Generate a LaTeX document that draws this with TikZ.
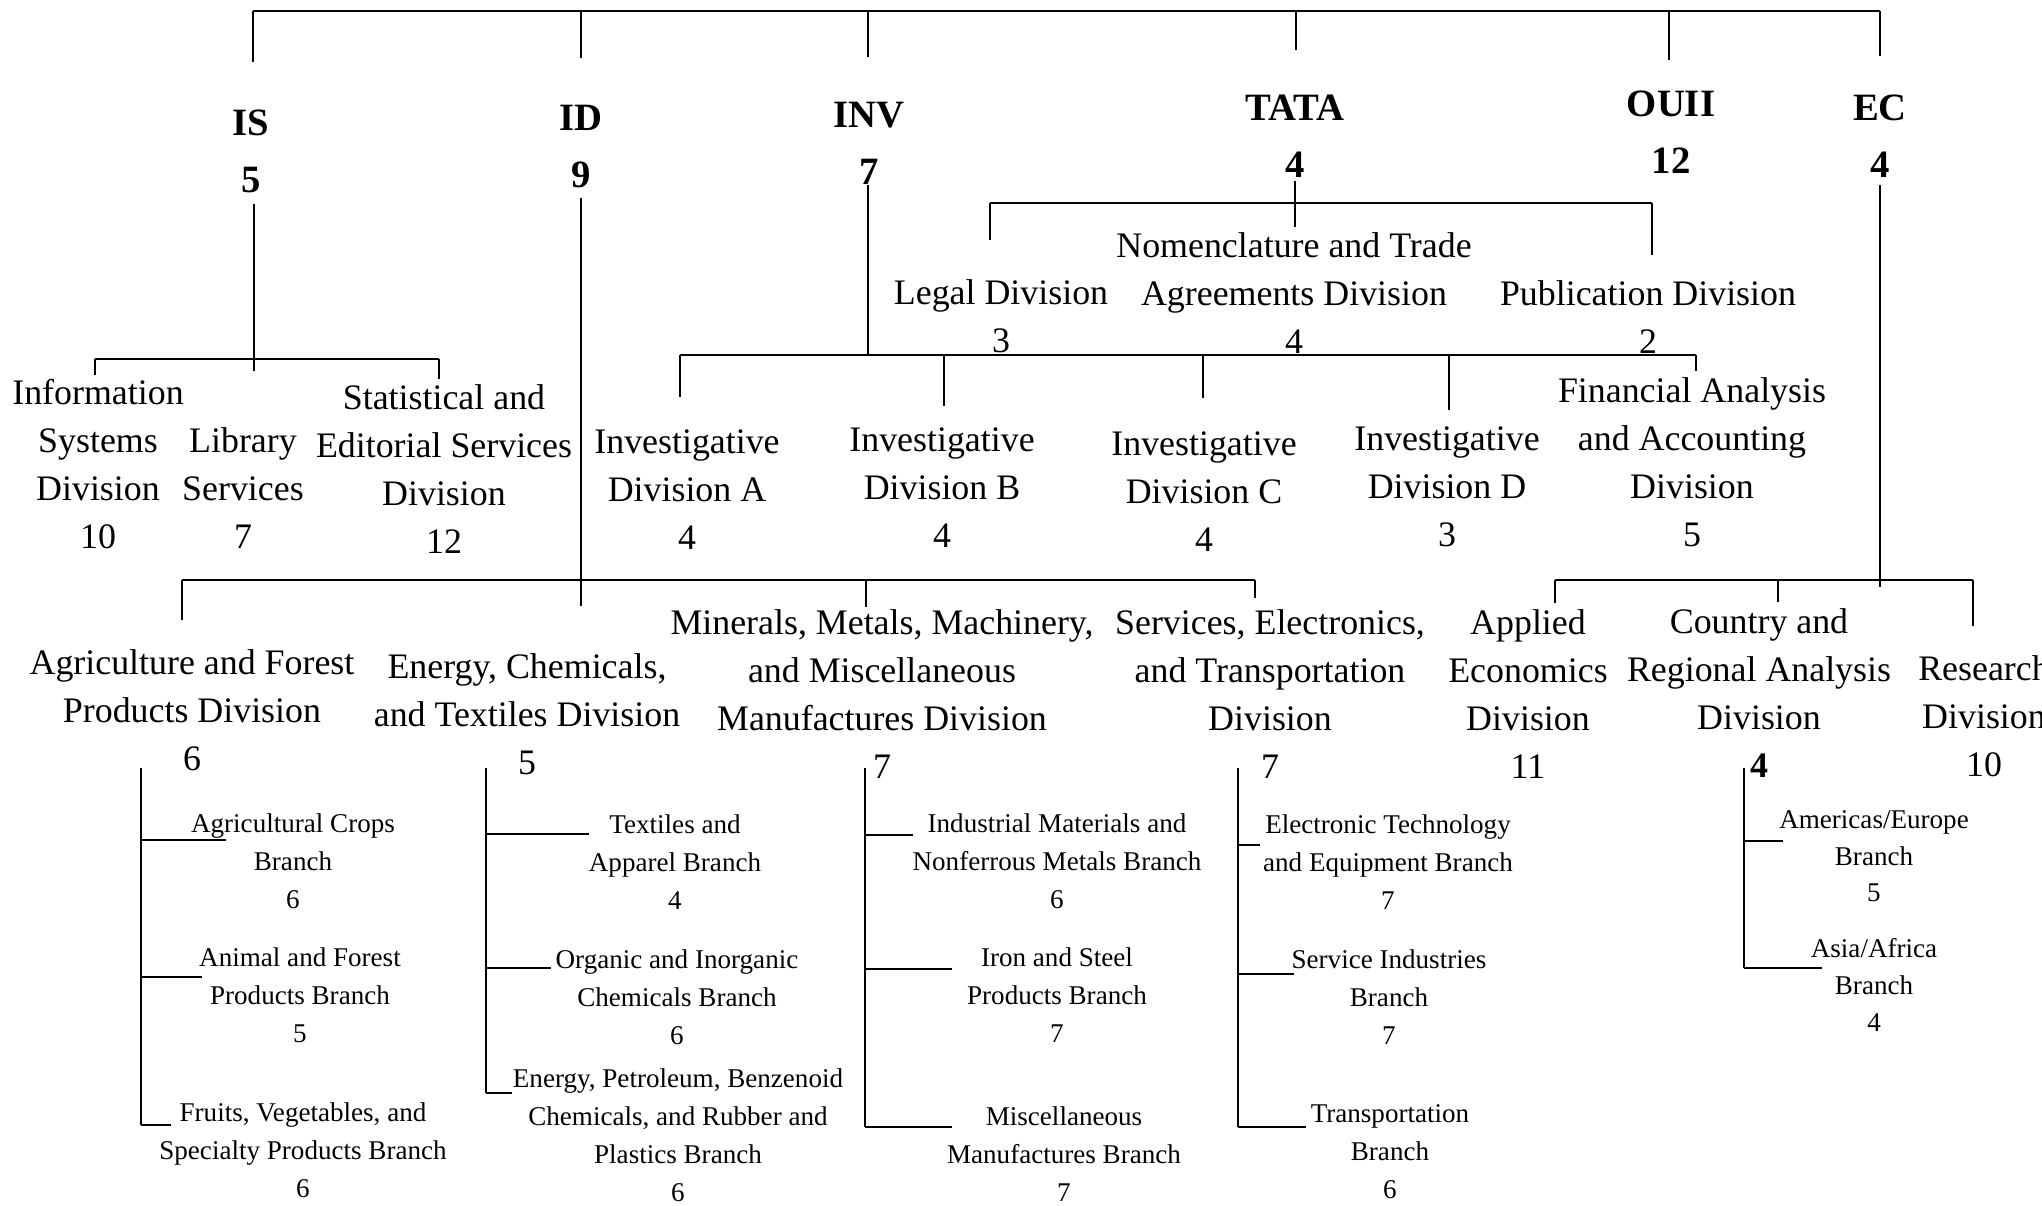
\documentclass[tikz,border=0pt]{standalone}
\usepackage{fontspec}
\setmainfont{Liberation Serif}
\begin{document}
\begin{tikzpicture}[x=0.01cm,y=-0.01cm,line width=0.5pt,
  hd/.style={font=\fontsize{11pt}{16.2pt}\selectfont\bfseries,align=center,anchor=south,inner sep=0pt},
  dv/.style={font=\fontsize{10.2pt}{13.66pt}\selectfont,align=center,anchor=south,inner sep=0pt},
  br/.style={font=\fontsize{7.7pt}{10.8pt}\selectfont,align=center,anchor=south,inner sep=0pt},
  brc/.style={font=\fontsize{7.7pt}{10.4pt}\selectfont,align=center,anchor=south,inner sep=0pt},
  conn/.style={line width=0.5pt,black}]
\useasboundingbox (0,0) rectangle (2042,1206);
\clip (0,0) rectangle (2042,1206);

% ---------------- headers ----------------
\node[hd] (IS)   at (251,194)  {IS\\5};
\node[hd] (ID)   at (581,189)  {ID\\9};
\node[hd] (INV)  at (869,185)  {INV\\7};
\node[hd] (TATA) at (1295,178) {TATA\\4};
\node[hd] (OUII) at (1671,174) {OUII\\12};
\node[hd] (EC)   at (1880,178) {EC\\4};

% ---------------- division level ----------------
\node[dv] (info)  at (98,550)  {Information\\Systems\\Division\\10};
\node[dv] (lib)   at (243,549) {Library\\Services\\7};
\node[dv] (stat)  at (444,554) {Statistical and\\Editorial Services\\Division\\12};
\node[dv] (invA)  at (687,550) {Investigative\\Division A\\4};
\node[dv] (invB)  at (942,548) {Investigative\\Division B\\4};
\node[dv] (invC)  at (1204,552) {Investigative\\Division C\\4};
\node[dv] (invD)  at (1447,548) {Investigative\\Division D\\3};
\node[dv] (fin)   at (1692,548) {Financial Analysis\\and Accounting\\Division\\5};
\node[dv] (legal) at (1001,354) {Legal Division\\3};
\node[dv] (nom)   at (1294,354) {Nomenclature and Trade\\Agreements Division\\4};
\node[dv] (pub)   at (1648,354) {Publication Division\\2};
\node[dv] (agri)  at (192,772) {Agriculture and Forest\\Products Division\\6};
\node[dv] (energy) at (527,776) {Energy, Chemicals,\\and Textiles Division\\5};
\node[dv] (miner) at (882,779) {Minerals, Metals, Machinery,\\and Miscellaneous\\Manufactures Division\\7};
\node[dv] (serv)  at (1270,779) {Services, Electronics,\\and Transportation\\Division\\7};
\node[dv] (appl)  at (1528,779) {Applied\\Economics\\Division\\11};
\node[dv] (ctry)  at (1759,778) {Country and\\Regional Analysis\\Division\\\textbf{4}};
\node[dv] (res)   at (1984,778) {Research\\Division\\10};

% ---------------- branch level ----------------
\node[br] (crops)  at (293,910)  {Agricultural Crops\\Branch\\6};
\node[br] (animal) at (300,1044) {Animal and Forest\\Products Branch\\5};
\node[br] (fruits) at (303,1199) {Fruits, Vegetables, and\\Specialty Products Branch\\6};
\node[br] (textil) at (675,910)  {Textiles and\\Apparel Branch\\4};
\node[br] (organ)  at (677,1046) {Organic and Inorganic\\Chemicals Branch\\6};
\node[br] (petro)  at (678,1203) {Energy, Petroleum, Benzenoid\\Chemicals, and Rubber and\\Plastics Branch\\6};
\node[br] (indus)  at (1057,910) {Industrial Materials and\\Nonferrous Metals Branch\\6};
\node[br] (iron)   at (1057,1043) {Iron and Steel\\Products Branch\\7};
\node[br] (misc)   at (1064,1202) {Miscellaneous\\Manufactures Branch\\7};
\node[br] (elec)   at (1388,910) {Electronic Technology\\and Equipment Branch\\7};
\node[br] (servi)  at (1389,1045) {Service Industries\\Branch\\7};
\node[br] (trans)  at (1390,1200) {Transportation\\Branch\\6};
\node[brc] (amer)  at (1874,903) {Americas/Europe\\Branch\\5};
\node[brc] (asia)  at (1874,1032) {Asia/Africa\\Branch\\4};

% ---------------- top bar ----------------
\coordinate (tIS) at (253,11);   \coordinate (dIS) at (253,62);
\coordinate (tID) at (581,11);   \coordinate (dID) at (581,58);
\coordinate (tINV) at (868,11);  \coordinate (dINV) at (868,57);
\coordinate (tTATA) at (1296,11);\coordinate (dTATA) at (1296,50);
\coordinate (tOUII) at (1669,11);\coordinate (dOUII) at (1669,60);
\coordinate (tEC) at (1880,11);  \coordinate (dEC) at (1880,56);
\draw[conn] (tIS) -- (tEC);
\draw[conn] (tIS) -- (dIS);
\draw[conn] (tID) -- (dID);
\draw[conn] (tINV) -- (dINV);
\draw[conn] (tTATA) -- (dTATA);
\draw[conn] (tOUII) -- (dOUII);
\draw[conn] (tEC) -- (dEC);

% ---------------- IS group ----------------
\coordinate (isTop) at (254,204);
\coordinate (isJ) at (254,359);
\coordinate (isL) at (95,359);  \coordinate (isLd) at (95,375);
\coordinate (isM) at (254,371);
\coordinate (isR) at (439,359); \coordinate (isRd) at (439,379);
\draw[conn] (isTop) -- (isM);
\draw[conn] (isL) -- (isR);
\draw[conn] (isL) -- (isLd);
\draw[conn] (isR) -- (isRd);

% ---------------- INV group ----------------
\coordinate (invTop) at (868,185);
\coordinate (invJ) at (868,355);
\coordinate (invL) at (680,355);
\coordinate (invR) at (1696,355);
\draw[conn] (invTop) -- (invJ);
\draw[conn] (invL) -- (invR);
\draw[conn] (invL) -- (680,397) coordinate (invAd);
\draw[conn] (944,355) coordinate (invBu) -- (944,406) coordinate (invBd);
\draw[conn] (1203,355) coordinate (invCu) -- (1203,398) coordinate (invCd);
\draw[conn] (1449,355) coordinate (invDu) -- (1449,410) coordinate (invDd);
\draw[conn] (invR) -- (1696,371) coordinate (finD);

% ---------------- TATA group ----------------
\coordinate (taTop) at (1295,181);
\coordinate (taM) at (1295,227);
\coordinate (taL) at (990,203);
\coordinate (taR) at (1652,203);
\draw[conn] (taTop) -- (taM);
\draw[conn] (taL) -- (taR);
\draw[conn] (taL) -- (990,240) coordinate (legD);
\draw[conn] (taR) -- (1652,255) coordinate (pubD);

% ---------------- ID group ----------------
\coordinate (idTop) at (581,198);
\coordinate (idBot) at (581,606);
\coordinate (idL) at (182,580);
\coordinate (idR) at (1255,580);
\draw[conn] (idTop) -- (idBot);
\draw[conn] (idL) -- (idR);
\draw[conn] (idL) -- (182,620) coordinate (agD);
\draw[conn] (866,580) coordinate (miU) -- (866,607) coordinate (miD);
\draw[conn] (idR) -- (1255,598) coordinate (seD);

% ---------------- EC group ----------------
\coordinate (ecTop) at (1880,185);
\coordinate (ecBot) at (1880,587);
\coordinate (ecL) at (1555,580);
\coordinate (ecR) at (1973,580);
\draw[conn] (ecTop) -- (ecBot);
\draw[conn] (ecL) -- (ecR);
\draw[conn] (ecL) -- (1555,603) coordinate (apD);
\draw[conn] (1778,580) coordinate (coU) -- (1778,602) coordinate (coD);
\draw[conn] (ecR) -- (1973,626) coordinate (reD);

% ---------------- branch trees ----------------
% Agriculture
\draw[conn] (141,768) coordinate (agT) -- (141,1125) coordinate (agB);
\draw[conn] (141,840) coordinate (ag1) -- (226,840) coordinate (ag1e);
\draw[conn] (141,977) coordinate (ag2) -- (202,977) coordinate (ag2e);
\draw[conn] (agB) -- (171,1125) coordinate (ag3e);
% Energy
\draw[conn] (486,768) coordinate (enT) -- (486,1093) coordinate (enB);
\draw[conn] (486,834) coordinate (en1) -- (589,834) coordinate (en1e);
\draw[conn] (486,968) coordinate (en2) -- (551,968) coordinate (en2e);
\draw[conn] (enB) -- (512,1093) coordinate (en3e);
% Minerals
\draw[conn] (865,768) coordinate (mnT) -- (865,1127) coordinate (mnB);
\draw[conn] (865,835) coordinate (mn1) -- (913,835) coordinate (mn1e);
\draw[conn] (865,969) coordinate (mn2) -- (952,969) coordinate (mn2e);
\draw[conn] (mnB) -- (952,1127) coordinate (mn3e);
% Services
\draw[conn] (1238,768) coordinate (svT) -- (1238,1127) coordinate (svB);
\draw[conn] (1238,845) coordinate (sv1) -- (1260,845) coordinate (sv1e);
\draw[conn] (1238,974) coordinate (sv2) -- (1294,974) coordinate (sv2e);
\draw[conn] (svB) -- (1306,1127) coordinate (sv3e);
% Country
\draw[conn] (1744,768) coordinate (ctT) -- (1744,968) coordinate (ctB);
\draw[conn] (1744,841) coordinate (ct1) -- (1783,841) coordinate (ct1e);
\draw[conn] (ctB) -- (1822,968) coordinate (ct2e);
\end{tikzpicture}
\end{document}
